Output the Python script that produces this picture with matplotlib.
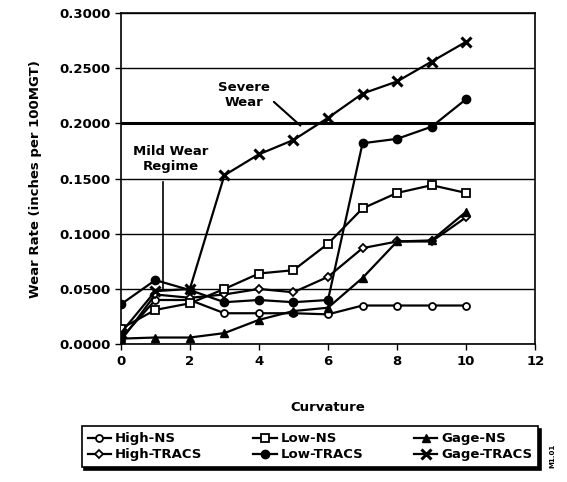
import numpy as np
import matplotlib
matplotlib.use('Agg')
import matplotlib.pyplot as plt

plt.rcParams['font.family'] = 'DejaVu Sans'
plt.rcParams['font.weight'] = 'bold'
plt.rcParams['font.size'] = 9.5

curvature = [0, 1, 2, 3, 4, 5, 6, 7, 8, 9, 10]

high_ns = [0.005, 0.040, 0.040, 0.028, 0.028, 0.028, 0.027, 0.035, 0.035, 0.035, 0.035]
high_tracs = [0.003, 0.045, 0.042, 0.045, 0.050, 0.047, 0.061, 0.087, 0.093, 0.093, 0.115]
low_ns = [0.014, 0.031, 0.037, 0.050, 0.064, 0.067, 0.091, 0.123, 0.137, 0.144, 0.137]
low_tracs = [0.036, 0.058, 0.049, 0.038, 0.040, 0.038, 0.040, 0.182, 0.186, 0.197, 0.222]
gage_ns = [0.005, 0.006, 0.006, 0.010, 0.022, 0.030, 0.033, 0.060, 0.093, 0.094, 0.120]
gage_tracs = [0.010, 0.048, 0.050, 0.153, 0.172, 0.185, 0.205, 0.227, 0.238, 0.256, 0.274]

yticks = [0.0, 0.05, 0.10, 0.15, 0.20, 0.25, 0.30]
xticks = [0, 2, 4, 6, 8, 10, 12]

fig = plt.figure(figsize=(5.67, 4.82), dpi=100)
ax = fig.add_axes([0.213, 0.286, 0.731, 0.687])

for y in yticks:
    lw = 2.2 if y == 0.20 else 1.0
    ax.axhline(y, color='black', lw=lw, zorder=1)

kw = dict(color='black', lw=1.6, zorder=3)
ax.plot(curvature, high_ns, marker='o', ms=5, mfc='white', mec='black', mew=1.3, label='High-NS', **kw)
ax.plot(curvature, high_tracs, marker='D', ms=4.5, mfc='white', mec='black', mew=1.3, label='High-TRACS', **kw)
ax.plot(curvature, low_ns, marker='s', ms=6, mfc='white', mec='black', mew=1.3, label='Low-NS', **kw)
ax.plot(curvature, low_tracs, marker='o', ms=6, mfc='black', mec='black', label='Low-TRACS', **kw)
ax.plot(curvature, gage_ns, marker='^', ms=6, mfc='black', mec='black', label='Gage-NS', **kw)
ax.plot(curvature, gage_tracs, marker='x', ms=7, mew=2.2, mec='black', label='Gage-TRACS', **kw)

ax.set_xlim(0, 12)
ax.set_ylim(0, 0.3)
ax.set_xticks(xticks)
ax.set_yticks(yticks)
ax.set_yticklabels(['%.4f' % v for v in yticks])
ax.tick_params(direction='out', length=4, width=1, colors='black')
for s in ax.spines.values():
    s.set_color('black')
    s.set_linewidth(1.2)

ax.set_xlabel('Curvature', fontweight='bold', labelpad=24)
ax.set_ylabel('Wear Rate (inches per 100MGT)', fontweight='bold', labelpad=12)

# annotations
ax.annotate('Severe\nWear', xy=(5.2, 0.198), xytext=(3.57, 0.226),
            ha='center', va='center', fontweight='bold',
            arrowprops=dict(arrowstyle='-', color='black', lw=1.5,
                            shrinkA=1, shrinkB=0, relpos=(0.95, 0.45)))
ax.text(1.45, 0.168, 'Mild Wear\nRegime', ha='center', va='center', fontweight='bold')
ax.plot([1.22, 1.22], [0.147, 0.049], color='black', lw=1.2, zorder=2)

leg = fig.legend(loc='lower left', bbox_to_anchor=(75 / 567, 8 / 482, 470 / 567, 50 / 482),
                 mode='expand', ncol=3, frameon=True, fancybox=False,
                 shadow={'color': 'black', 'alpha': 1.0},
                 edgecolor='black', handlelength=1.8, borderpad=0.45,
                 labelspacing=0.25, handletextpad=0.3, fontsize=9.5)
leg.get_frame().set_linewidth(1.2)

fig.text(0.975, 0.055, 'M1.01', rotation=90, fontsize=5, ha='center', va='center')

fig.savefig('out.png', dpi=100)
